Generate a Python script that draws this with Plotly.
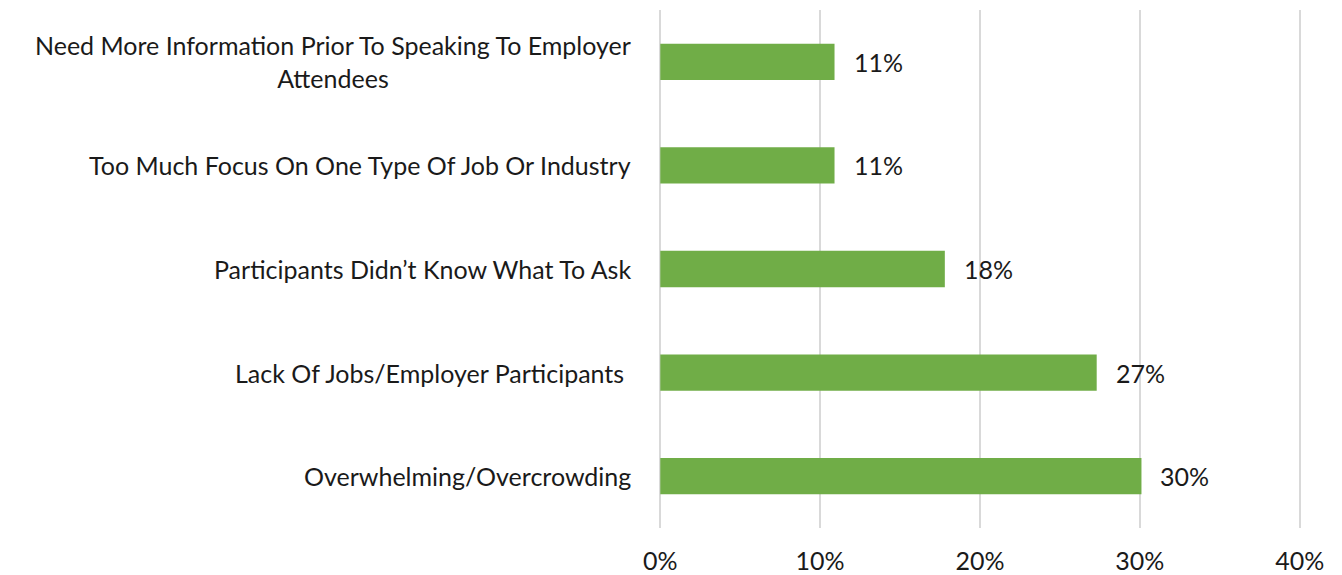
import plotly.graph_objects as go

# Survey results: challenges reported at the job fair
categories = [
    "Need More Information Prior To Speaking To Employer<br>Attendees",
    "Too Much Focus On One Type Of Job Or Industry",
    "Participants Didn’t Know What To Ask",
    "Lack Of Jobs/Employer Participants ",
    "Overwhelming/Overcrowding",
]
shares = [0.109, 0.109, 0.178, 0.273, 0.301]
tick_values = [0, 0.1, 0.2, 0.3, 0.4]
tick_labels = ["0%", "10%", "20%", "30%", "40%"]

FONT = "Lato"
FONT_SIZE = 25
TEXT_COLOR = "#1a1a1a"
BAR_COLOR = "#70ad47"
GRID_COLOR = "#d9d9d9"

fig = go.Figure(
    go.Bar(
        x=shares,
        y=categories,
        orientation="h",
        marker=dict(color=BAR_COLOR, line=dict(width=0)),
        hoverinfo="skip",
    )
)

# Value labels to the right of each bar
for cat, val in zip(categories, shares):
    fig.add_annotation(
        x=val, y=cat, xref="x", yref="y",
        text=f"{val:.0%}", showarrow=False,
        xanchor="left", yanchor="middle", xshift=17,
        font=dict(family=FONT, size=FONT_SIZE, color=TEXT_COLOR),
    )

# Category labels, centred line-by-line and right-aligned to the plot edge
for cat in categories:
    fig.add_annotation(
        x=0, y=cat, xref="paper", yref="y",
        text=cat, showarrow=False,
        xanchor="right", yanchor="middle", xshift=-26,
        align="center",
        font=dict(family=FONT, size=FONT_SIZE, color=TEXT_COLOR),
    )

fig.update_layout(
    width=1342, height=575,
    margin=dict(l=659, r=41, t=10, b=47, autoexpand=False),
    paper_bgcolor="white", plot_bgcolor="white",
    bargap=0.65,
    showlegend=False,
    font=dict(family=FONT, size=FONT_SIZE, color=TEXT_COLOR),
)
fig.update_xaxes(
    range=[-0.0008, 0.4008],
    tickvals=tick_values, ticktext=tick_labels,
    showgrid=True, gridcolor=GRID_COLOR, gridwidth=1.5,
    zeroline=True, zerolinecolor=GRID_COLOR, zerolinewidth=1.5,
    showline=False, automargin=False,
    ticks="outside", ticklen=0, ticklabelstandoff=11,
    tickfont=dict(family=FONT, size=FONT_SIZE, color=TEXT_COLOR),
    fixedrange=True,
)
fig.update_yaxes(
    autorange="reversed", automargin=False,
    showticklabels=False, showgrid=False, zeroline=False, showline=False,
    fixedrange=True,
)

fig.write_html("out.html", config={"displayModeBar": False})
